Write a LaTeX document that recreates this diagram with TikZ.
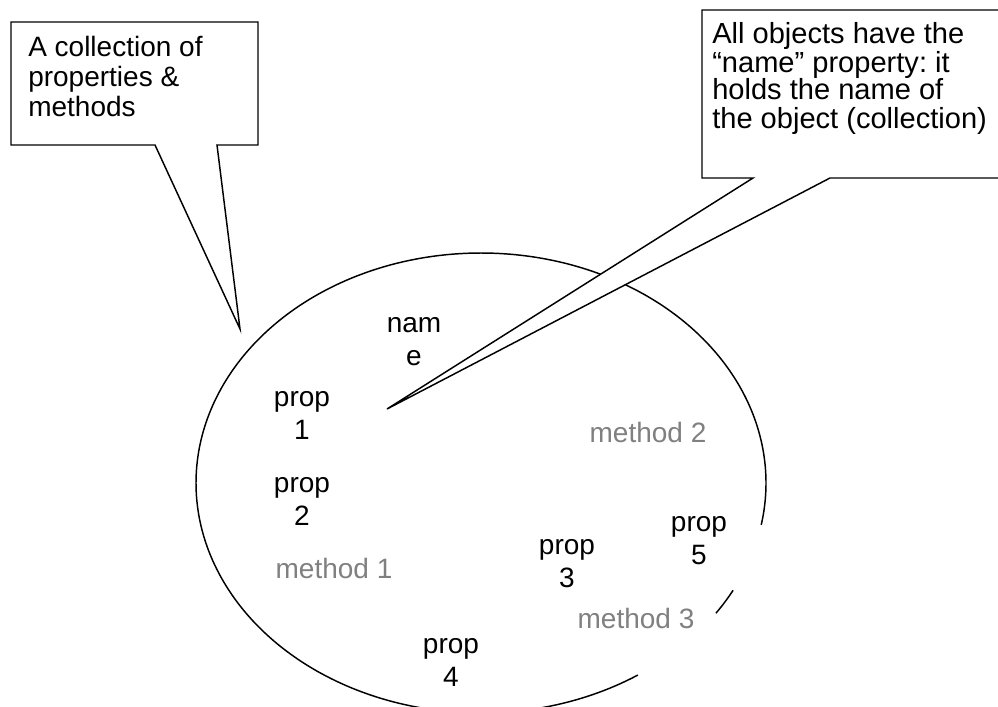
\documentclass[tikz,border=0pt]{standalone}
\usepackage{fontspec}
\setmainfont{Liberation Sans}
\definecolor{methgray}{RGB}{128,128,128}
\begin{document}
\frenchspacing
\begin{tikzpicture}[x=0.75pt,y=-0.75pt,
  lbl/.style={inner sep=0pt, align=center, anchor=base, font=\fontsize{21}{24.75}\selectfont},
  meth/.style={inner sep=0pt, anchor=base, text=methgray, font=\fontsize{21}{24.75}\selectfont},
  callout/.style={draw=black, fill=white, line width=1.1pt, line join=miter},
  ctext/.style={inner sep=0pt, anchor=base west, align=left},
  outline/.style={draw=black, line width=1.1pt}
]
\useasboundingbox (0,0) rectangle (998,706);
\clip (0,0) rectangle (998,706);
\fill[white] (0,0) rectangle (998,706);

% the collection (ellipse with gaps)
\draw[outline] plot[domain=56.6:370.5, samples=240, smooth] ({481+285*cos(\x)},{483+230*sin(\x)});
\draw[outline] plot[domain=27.8:34.5, samples=12, smooth] ({481+285*cos(\x)},{483+230*sin(\x)});

% callouts (anchor = baseline of the last line)
\coordinate (tipL) at (240,329);
\draw[callout] (11,22) -- (258,22) -- (258,145) -- (217,145) -- (tipL) -- (155,145) -- (11,145) -- cycle;
\node[ctext, font=\fontsize{21}{22.5}\selectfont] (c1) at (28,117) {A collection of\\properties \&\\methods};

\coordinate (tipR) at (387,409);
\draw[callout] (702,10) -- (1010,10) -- (1010,178) -- (830,178) -- (tipR) -- (753,178) -- (702,178) -- cycle;
\node[ctext, font=\fontsize{21.8}{21}\selectfont] (c2) at (712,128) {All objects have the\\“name” property: it\\holds the name of\\the object (collection)};

% members (anchor = baseline of the last line)
\node[lbl] (name) at (414,365) {nam\\e};
\node[lbl] (p1) at (302,439) {prop\\1};
\node[lbl] (p2) at (302,525) {prop\\2};
\node[meth] (m1) at (334,578) {method 1};
\node[lbl] (p4) at (451,686) {prop\\4};
\node[lbl] (p3) at (567,587) {prop\\3};
\node[lbl] (p5) at (699,564) {prop\\5};
\node[meth] (m3) at (636,628) {method 3};
\node[meth] (m2) at (648,442) {method 2};
\end{tikzpicture}
\end{document}
